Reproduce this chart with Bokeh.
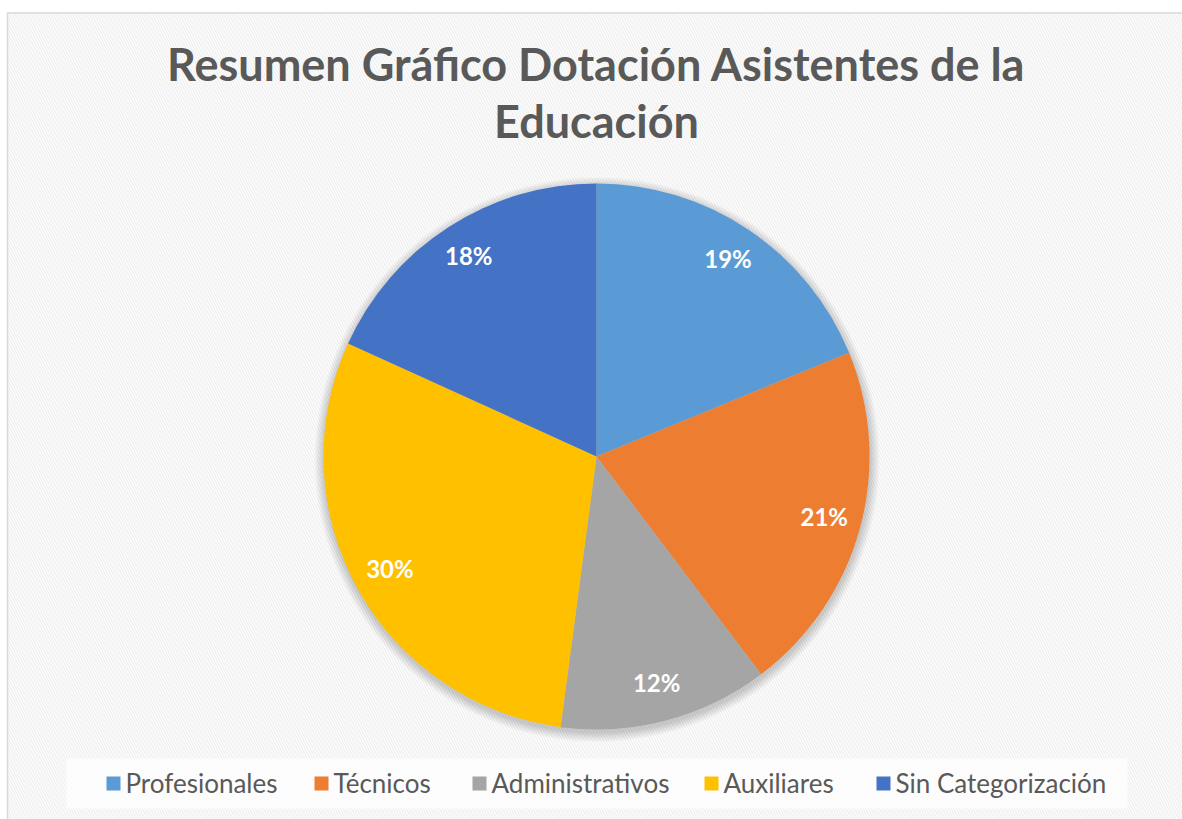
import numpy as np
from bokeh.plotting import figure
from bokeh.models import Range1d, ColumnDataSource
from bokeh.core.properties import value
from bokeh.embed import file_html
from bokeh.resources import INLINE

# ---- data ----
categories = ["Profesionales", "Técnicos", "Administrativos", "Auxiliares", "Sin Categorización"]
shares = [18.8, 20.9, 12.4, 29.7, 18.2]
colors = ["#5B9BD5", "#ED7D31", "#A5A5A5", "#FFC000", "#4472C4"]
title_lines = ["Resumen Gráfico Dotación Asistentes de la", "Educación"]

W, H = 1182, 819
IMG_H = 819
def Y(img_y):
    return IMG_H - img_y

p = figure(width=W, height=H, output_backend="svg", toolbar_location=None,
           x_range=Range1d(0, W), y_range=Range1d(Y(H), Y(0)),
           min_border=0, outline_line_color=None)
p.axis.visible = False
p.grid.visible = False
p.background_fill_color = "white"
p.border_fill_color = "white"

FONT = "Lato"

# chart area with faint diagonal stripes
p.quad(left=[7], right=[1200], top=[Y(12.5)], bottom=[Y(840)],
       fill_color="white", line_color="#d9d9d9", line_width=1.5,
       hatch_pattern="\\", hatch_color="#ececec", hatch_weight=1.2, hatch_scale=5.5)

# pie geometry
cx, cy, R = 596, Y(456), 273
vals = np.array(shares, dtype=float)
frac = vals / vals.sum()
cum = np.concatenate([[0.0], np.cumsum(frac)])
start = np.pi / 2 - cum[:-1] * 2 * np.pi
end = np.pi / 2 - cum[1:] * 2 * np.pi
mid = (start + end) / 2

# soft shadow
for k in range(1, 13):
    p.circle(x=[cx + 0.5], y=[cy - 3], radius=R + k * 0.8, fill_color="black",
             fill_alpha=0.016, line_color=None)

src = ColumnDataSource(dict(start=start, end=end, color=colors, cat=categories))
p.wedge(x=cx, y=cy, radius=R, start_angle="start", end_angle="end",
        direction="clock", fill_color="color", line_color=None, source=src)

# data labels
lr = 0.865 * R
labels = [f"{round(v)}%" for v in vals]
p.text(x=cx + lr * np.cos(mid), y=cy + lr * np.sin(mid) + 2, text=labels,
       text_color="white", text_font=value(FONT), text_font_style="bold",
       text_font_size="24px", text_align="center", text_baseline="middle")

# title
p.text(x=[596, 596], y=[Y(63), Y(120)], text=title_lines, text_color="#595959",
       text_font=value(FONT), text_font_style="bold", text_font_size="45px",
       text_align="center", text_baseline="middle")

# legend
p.quad(left=[66], right=[1127], top=[Y(758)], bottom=[Y(808)],
       fill_color="white", fill_alpha=0.7, line_color=None)
sq_x = [106, 314, 472, 704, 876]
ly = Y(783)
p.rect(x=[s + 7 for s in sq_x], y=[ly] * 5, width=14, height=14,
       fill_color=colors, line_color=None)
p.text(x=[s + 19 for s in sq_x], y=[ly + 1] * 5, text=categories, text_color="#595959",
       text_font=value(FONT), text_font_size="26px", text_align="left",
       text_baseline="middle")

open("out.html", "w").write(file_html(p, INLINE))
